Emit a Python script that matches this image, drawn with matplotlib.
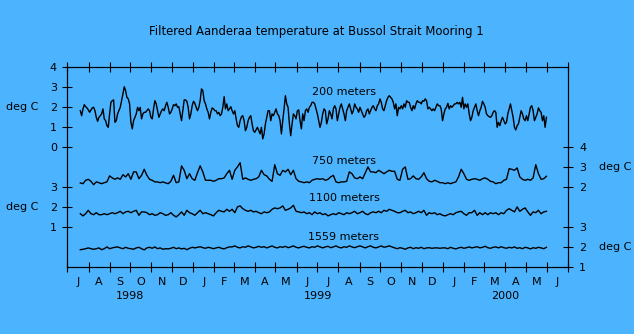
import numpy as np
import pandas as pd
import matplotlib
matplotlib.use('Agg')
import matplotlib.pyplot as plt
import matplotlib.transforms as mtrans

BG = '#4cb4ff'
plt.rcParams['font.family'] = ['DejaVu Sans']
plt.rcParams['font.size'] = 8

title = "Filtered Aanderaa temperature at Bussol Strait Mooring 1"
depth_labels = ["200 meters", "750 meters", "1100 meters", "1559 meters"]
month_letters = list("JASONDJFMAMJJASONDJFMAMJ")
years = ["1998", "1999", "2000"]
unit = "deg C"

# 200 m (left upper scale), ~2-day samples
temp200 = [
    1.83, 1.58, 1.92, 2.13, 2.03, 1.97, 1.87, 1.75, 1.87, 1.97,
    2.0, 1.83, 1.5, 1.3, 1.5, 1.58, 1.67, 1.92, 1.42, 1.33,
    1.08, 1.0, 1.67, 2.25, 2.33, 2.37, 1.25, 1.33, 1.67, 1.83,
    2.0, 2.33, 2.67, 3.03, 2.83, 2.5, 2.42, 2.17, 1.25, 0.92,
    1.33, 1.5, 1.67, 2.0, 1.83, 2.0, 1.42, 1.67, 1.75, 1.75,
    1.83, 1.92, 1.83, 1.5, 1.42, 1.92, 2.33, 2.17, 1.83, 1.5,
    1.67, 1.83, 1.92, 1.83, 2.08, 2.25, 2.0, 1.67, 1.75, 1.92,
    2.13, 2.08, 2.17, 2.0, 2.03, 1.67, 1.33, 1.83, 2.37, 2.37,
    2.3, 2.0, 1.42, 1.67, 2.08, 2.3, 2.2, 2.0, 1.83, 2.0,
    2.33, 2.92, 2.83, 2.33, 2.17, 1.92, 1.75, 1.42, 1.75, 1.97,
    1.92, 1.83, 1.83, 1.67, 1.75, 1.58, 1.67, 2.0, 2.53, 1.92,
    2.17, 1.83, 1.92, 2.03,
    1.83, 1.67, 1.83, 1.42, 1.08, 1.0, 1.33, 1.53, 1.58, 1.33,
    0.83, 1.0, 1.33, 1.5, 1.58, 1.17, 0.83, 0.75, 0.87, 1.0,
    0.83, 0.67, 1.0, 0.42, 0.67, 1.17, 1.5, 1.83, 1.83, 1.33,
    1.67, 1.58, 1.75, 1.92, 1.67, 1.58, 1.33, 0.67, 1.33, 1.92,
    2.58, 2.17, 2.0, 1.17, 0.58, 1.17, 1.67, 1.58, 1.42, 1.83,
    1.87, 1.33, 0.92, 1.67, 1.33, 1.83, 1.92, 1.75, 2.0, 2.08,
    2.25, 2.25, 2.17, 1.92, 1.67, 1.33, 1.0, 1.25, 1.67, 1.92,
    1.83, 1.17, 1.42, 1.83, 1.67, 1.42, 1.92, 2.08, 1.92, 1.33,
    1.67, 2.0, 2.17, 1.92, 1.67, 1.33, 1.83, 2.0, 2.17, 1.92,
    1.67, 1.83, 2.17, 2.0, 1.92, 1.75, 2.0, 1.83, 1.67, 1.5,
    1.58, 1.83, 1.92, 1.67, 1.83, 2.0, 2.08, 1.92, 1.83, 2.08,
    2.17, 2.42, 2.25, 1.92, 1.83, 2.08, 2.33, 2.5, 2.58, 2.5,
    2.42, 2.25, 1.92, 2.17, 1.58, 2.0, 1.92, 2.08, 1.92, 2.17,
    2.0, 2.33, 2.25, 2.25, 2.0, 1.83, 2.08, 1.92, 2.17, 2.33,
    2.25, 2.25, 2.17, 2.33, 2.3, 2.42, 2.33, 1.92, 2.0, 1.92,
    1.83, 1.92, 1.83, 2.0, 2.17, 2.08, 2.08, 1.92, 1.33, 1.67,
    1.92, 2.0, 2.2, 1.92, 2.08, 2.0, 2.08, 2.17, 2.17, 2.25,
    2.17, 2.25, 2.0, 2.5, 1.92, 2.17, 2.0, 2.17, 1.67, 1.33,
    1.5, 1.83, 2.0, 2.17, 1.83, 1.58, 1.83, 2.0, 2.3, 2.17,
    2.0, 1.67, 1.58, 1.53, 1.5, 1.58, 1.75, 1.83, 1.75, 1.0,
    1.25, 1.08, 1.33, 1.5, 1.33, 1.17, 1.25, 1.67, 1.92, 2.17,
    1.83, 1.5, 1.0, 0.87, 1.08, 1.17, 1.5, 1.83, 1.67, 1.42,
    1.33, 1.58, 1.33, 1.67, 2.0, 2.08, 1.83, 1.33, 1.5, 1.67,
    1.97, 1.83, 1.75, 1.33, 1.58, 1.0, 1.5,
]

# 750 m (right upper scale), ~4-day samples
temp750 = [
    2.22, 2.18, 2.35, 2.4, 2.3, 2.13, 2.27, 2.23, 2.18, 2.23,
    2.27, 2.57, 2.47, 2.4, 2.47, 2.4, 2.63, 2.52, 2.68, 2.4,
    2.77, 2.77, 2.43, 2.6, 2.9, 2.6, 2.4, 2.35, 2.27, 2.27,
    2.23, 2.27, 2.22, 2.18, 2.3, 2.6, 2.23, 2.27, 3.07, 2.85,
    2.43, 2.68, 2.43, 2.35, 2.73, 3.07, 2.77, 2.35, 2.35, 2.35,
    2.3, 2.35, 2.43, 2.43, 2.47, 2.68, 2.85,
    2.4, 2.85, 3.02, 3.23, 2.4, 2.47, 2.4, 2.35, 2.4, 2.43,
    2.52, 2.85, 2.63, 2.57, 2.4, 2.3, 3.13, 2.68, 2.6, 2.85,
    2.77, 2.9, 2.63, 2.85, 2.43, 2.3, 2.27, 2.23, 2.27, 2.23,
    2.35, 2.4, 2.43, 2.4, 2.43, 2.35, 2.4, 2.52, 2.6, 2.27,
    2.23, 2.27, 2.27, 2.3, 2.77, 2.68, 2.47, 2.43, 2.52, 2.43,
    2.73, 3.02, 2.77, 2.77, 2.73, 2.85, 2.77, 2.68, 2.77, 2.85,
    2.8, 2.8, 2.4, 2.35, 2.9, 3.02, 2.4, 2.43, 2.57, 2.43,
    2.4, 2.52, 2.73, 2.43, 2.3, 2.27, 2.35, 2.3, 2.23, 2.23,
    2.18, 2.23, 2.18, 2.23, 2.27, 2.52, 2.9, 2.68, 2.4, 2.35,
    2.4, 2.43, 2.4, 2.35, 2.43, 2.47, 2.4, 2.3, 2.27, 2.18,
    2.23, 2.23, 2.35, 2.4, 2.93, 2.9, 2.85, 2.97, 2.52, 2.4,
    2.35, 2.4, 2.35, 2.47, 3.13, 2.68, 2.4, 2.43, 2.55,
]

# 1100 m (left lower scale)
temp1100 = [
    1.68, 1.57, 1.68, 1.85, 1.68, 1.63, 1.73, 1.63, 1.63, 1.68,
    1.63, 1.68, 1.73, 1.68, 1.73, 1.8, 1.68, 1.77, 1.8, 1.73,
    1.8, 1.85, 1.6, 1.77, 1.77, 1.73, 1.63, 1.68, 1.6, 1.63,
    1.73, 1.68, 1.6, 1.63, 1.73, 1.6, 1.52, 1.63, 1.77, 1.6,
    1.85, 1.73, 1.68, 1.6, 1.73, 1.85, 1.68, 1.73, 1.68, 1.63,
    1.57, 1.73, 1.85, 1.8, 1.77, 1.9, 1.8,
    1.9, 1.73, 2.02, 2.07, 1.93, 1.85, 1.8, 1.85, 1.77, 1.8,
    1.73, 1.68, 1.77, 1.73, 1.77, 1.9, 1.97, 1.93, 1.97, 2.07,
    1.85, 1.9, 1.97, 2.1, 1.8, 1.77, 1.73, 1.77, 1.68, 1.73,
    1.63, 1.77, 1.68, 1.73, 1.63, 1.68, 1.57, 1.63, 1.68, 1.63,
    1.73, 1.68, 1.63, 1.73, 1.68, 1.73, 1.8, 1.68, 1.73, 1.8,
    1.68, 1.63, 1.73, 1.77, 1.73, 1.8, 1.73, 1.85, 1.8, 1.9,
    1.85, 1.8, 1.73, 1.73, 1.8, 1.85, 1.73, 1.77, 1.68, 1.73,
    1.8, 1.73, 1.85, 1.6, 1.73, 1.68, 1.73, 1.63, 1.68, 1.6,
    1.57, 1.63, 1.68, 1.63, 1.73, 1.77, 1.8, 1.68, 1.6, 1.73,
    1.73, 1.85, 1.6, 1.73, 1.63, 1.73, 1.63, 1.73, 1.68, 1.73,
    1.63, 1.73, 1.68, 1.85, 1.93, 1.85, 1.77, 2.02, 1.8, 1.9,
    1.97, 1.77, 1.6, 1.77, 1.73, 1.85, 1.68, 1.77, 1.8,
]

# 1559 m (right lower scale)
temp1559 = [
    1.88, 1.9, 1.93, 1.97, 1.93, 1.9, 1.93, 1.97, 1.88, 1.93,
    2.02, 1.93, 1.97, 2.0, 2.02, 1.97, 1.93, 2.0, 1.95, 1.93,
    1.9, 1.97, 2.0, 1.93, 1.87, 1.97, 2.0, 1.95, 2.02, 1.93,
    1.97, 1.9, 1.93, 1.92, 1.95, 2.0, 1.93, 1.97, 1.92, 1.95,
    1.88, 1.95, 2.0, 1.97, 2.0, 2.03, 1.98, 1.95, 2.0, 1.97,
    1.93, 1.97, 2.0, 1.95, 1.92, 1.98, 2.02,
    2.02, 2.07, 2.0, 1.97, 2.03, 2.0, 2.07, 2.02, 1.97, 2.0,
    2.05, 2.0, 2.03, 1.97, 2.02, 2.07, 2.0, 1.97, 2.03, 2.0,
    2.05, 1.98, 2.02, 2.07, 2.0, 1.97, 2.02, 2.05, 2.0, 1.97,
    2.03, 2.0, 2.07, 2.02, 1.97, 2.02, 2.05, 1.98, 2.02, 2.07,
    2.0, 1.97, 2.03, 2.0, 2.07, 2.02, 1.98, 2.03, 2.07, 2.02,
    1.97, 2.03, 2.07, 2.0, 1.97, 2.02, 2.07, 2.0, 2.03, 2.07,
    2.02, 1.97, 1.93, 1.98, 1.95, 1.9, 1.97, 2.0, 1.93, 1.98,
    1.95, 2.0, 1.93, 1.97, 1.98, 1.95, 1.97, 1.97, 1.95, 1.97,
    1.97, 1.93, 2.0, 1.95, 1.92, 1.97, 2.0, 1.95, 1.98, 2.02,
    1.97, 2.0, 2.03, 1.97, 2.0, 2.05, 1.98, 1.95, 2.0, 2.02,
    1.97, 2.03, 1.98, 1.95, 2.0, 1.97, 2.02, 1.95, 1.98, 1.93,
    2.0, 1.97, 1.92, 1.98, 1.95, 2.0, 1.97, 1.93, 2.0,
]

# sampling grid (days since 1998-07-01)
first_day = 19.0
step200 = 1.9455
step_deep = 3.891

# stacking offsets of each scale on the shared axis
off200, off750, off1100, off1559 = 6, 2, 1, -1

W, H = 634, 334
L, R, T, B = 67.3, 567.7, 67.3, 267.3

def fx(x):
    return x / W

def fy(y):
    return 1 - y / H

fig = plt.figure(figsize=(W / 100, H / 100), dpi=100, facecolor=BG)
ax = fig.add_axes([fx(L), fy(B), (R - L) / W, (B - T) / H], facecolor=BG)

start = pd.Timestamp('1998-07-01')
month_starts = pd.date_range('1998-07-01', '2000-07-01', freq='MS')
mdays = np.array([(d - start).days for d in month_starts], dtype=float)
mid = (mdays[:-1] + mdays[1:]) / 2

t200 = first_day + np.arange(len(temp200)) * step200
t750 = first_day + np.arange(len(temp750)) * step_deep
t1100 = first_day + np.arange(len(temp1100)) * step_deep
t1559 = first_day + np.arange(len(temp1559)) * step_deep

lw = 1.0
ax.plot(t200, np.array(temp200) + off200, color='k', lw=lw)
ax.plot(t750, np.array(temp750) + off750, color='k', lw=lw)
ax.plot(t1100, np.array(temp1100) + off1100, color='k', lw=lw)
ax.plot(t1559, np.array(temp1559) + off1559, color='k', lw=lw)

ax.set_xlim(mdays[0], mdays[-1])
ax.set_ylim(0, 10)

for s in ax.spines.values():
    s.set_linewidth(0.8)
    s.set_color('k')

ax.set_xticks(mdays)
ax.set_xticklabels([])
ax.set_xticks(mid, minor=True)
ax.set_xticklabels(month_letters, minor=True)
ax.tick_params(axis='x', which='major', direction='inout', length=6.5, width=0.8,
               top=True, bottom=True)
ax.tick_params(axis='x', which='minor', length=0, pad=7)

ax.set_yticks([10, 9, 8, 7, 6, 4, 3, 2])
ax.set_yticklabels(['4', '3', '2', '1', '0', '3', '2', '1'])
ax.tick_params(axis='y', direction='inout', length=6.5, width=0.8, pad=4.2)

ax2 = ax.twinx()
ax2.set_ylim(0, 10)
ax2.set_yticks([6, 5, 4, 2, 1, 0])
ax2.set_yticklabels(['4', '3', '2', '3', '2', '1'])
ax2.tick_params(axis='y', direction='inout', length=6.5, width=0.8, pad=5)
for s in ax2.spines.values():
    s.set_linewidth(0.8)

# year labels
year_tr = mtrans.blended_transform_factory(ax.transData, fig.transFigure)
year_edges = [(0, 6), (6, 18), (18, 24)]
for yr, (a, b) in zip(years, year_edges):
    ax.text((mdays[a] + mdays[b]) / 2, fy(296), yr, ha='center', va='center',
            transform=year_tr)

fig.text(fx(316.5), fy(32), title, ha='center', va='center', fontsize=8.4)

label_y = [92, 160.7, 197.7, 236.7]
for lab, yy in zip(depth_labels, label_y):
    fig.text(fx(344), fy(yy), lab, ha='center', va='center')

fig.text(fx(5.5), fy(107.3), unit, ha='left', va='center')
fig.text(fx(5.5), fy(206.7), unit, ha='left', va='center')
fig.text(fx(615.5), fy(166.7), unit, ha='center', va='center')
fig.text(fx(615.5), fy(246.7), unit, ha='center', va='center')

fig.savefig('out.png', dpi=100, facecolor=BG)
